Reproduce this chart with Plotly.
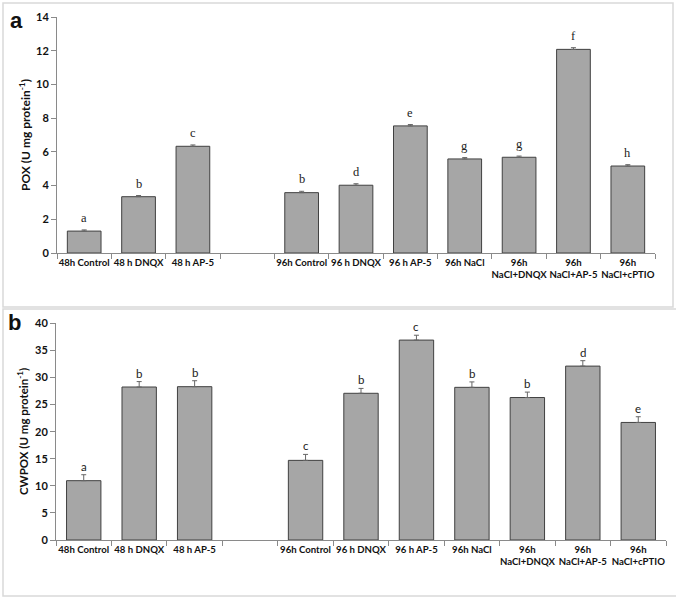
import plotly.graph_objects as go

categories = ["48h Control", "48 h DNQX", "48 h AP-5", " ", "96h Control", "96 h DNQX",
              "96 h AP-5", "96h NaCl", "96h<br>NaCl+DNQX", "96h<br>NaCl+AP-5", "96h<br>NaCl+cPTIO"]

pox_values = [1.30, 3.34, 6.33, None, 3.58, 4.02, 7.54, 5.58, 5.68, 12.08, 5.16]
pox_errors = [0.07, 0.07, 0.08, None, 0.08, 0.09, 0.08, 0.08, 0.07, 0.10, 0.08]
pox_letters = ["a", "b", "c", "", "b", "d", "e", "g", "g", "f", "h"]

cwpox_values = [10.95, 28.24, 28.30, None, 14.70, 27.08, 36.90, 28.18, 26.30, 32.10, 21.70]
cwpox_errors = [1.10, 1.00, 1.10, None, 1.10, 0.90, 0.90, 1.00, 1.00, 1.00, 1.05]
cwpox_letters = ["a", "b", "b", "", "c", "b", "c", "b", "b", "d", "e"]

pox_ticks = [0, 2, 4, 6, 8, 10, 12, 14]
cwpox_ticks = [0, 5, 10, 15, 20, 25, 30, 35, 40]

W, H = 676, 598
BAR = "#a6a6a6"
EDGE = "#404040"
AXIS = "#8a8a8a"
ERR = "#666666"
SANS = "Lato, 'Liberation Sans', Arial, sans-serif"

def px_x(p):
    return p / W

def px_y(p):
    return 1 - p / H

def plus_only(errs):
    return dict(type="data", array=errs, arrayminus=[0 if e is not None else None for e in errs],
                symmetric=False, visible=True, color=ERR, thickness=1, width=2.5)

fig = go.Figure()

fig.add_trace(go.Bar(
    x=categories, y=pox_values, xaxis="x", yaxis="y",
    marker=dict(color=BAR, line=dict(color=EDGE, width=1)),
    error_y=plus_only(pox_errors), showlegend=False, hoverinfo="x+y"))

fig.add_trace(go.Bar(
    x=categories, y=cwpox_values, xaxis="x2", yaxis="y2",
    marker=dict(color=BAR, line=dict(color=EDGE, width=1)),
    error_y=plus_only(cwpox_errors), showlegend=False, hoverinfo="x+y"))

annotations = []
for c, v, e, t in zip(categories, pox_values, pox_errors, pox_letters):
    if v is None:
        continue
    annotations.append(dict(x=c, y=v + e, xref="x", yref="y", text=t, showarrow=False,
                            xanchor="center", yanchor="bottom", yshift=3,
                            font=dict(family="'Liberation Serif', 'DejaVu Serif', serif", size=12.5, color="#222")))
for c, v, e, t in zip(categories, cwpox_values, cwpox_errors, cwpox_letters):
    if v is None:
        continue
    annotations.append(dict(x=c, y=v + e, xref="x2", yref="y2", text=t, showarrow=False,
                            xanchor="center", yanchor="bottom", yshift=0,
                            font=dict(family=SANS, size=11.5, color="#222")))

# panel letters
annotations.append(dict(x=px_x(16), y=px_y(21), xref="paper", yref="paper", text="<b>a</b>",
                        xanchor="center", yanchor="middle",
                        showarrow=False, font=dict(family="Arial, 'Liberation Sans', sans-serif", size=22, color="#111")))
annotations.append(dict(x=px_x(14), y=px_y(322), xref="paper", yref="paper", text="<b>b</b>",
                        xanchor="center", yanchor="middle",
                        showarrow=False, font=dict(family="Arial, 'Liberation Sans', sans-serif", size=22, color="#111")))

# y-axis titles
annotations.append(dict(x=px_x(25), y=px_y(135), xref="paper", yref="paper",
                        text="<b>POX (U mg protein<sup>-1</sup>)</b>", textangle=-90, showarrow=False,
                        xanchor="center", yanchor="middle",
                        font=dict(family=SANS, size=12, color="#111")))
annotations.append(dict(x=px_x(22), y=px_y(432), xref="paper", yref="paper",
                        text="<b>CWPOX (U mg protein<sup>-1</sup>)</b>", textangle=-90, showarrow=False,
                        xanchor="center", yanchor="middle",
                        font=dict(family=SANS, size=11.5, color="#111")))

shapes = [
    dict(type="rect", xref="paper", yref="paper", x0=px_x(3), x1=px_x(673), y0=px_y(307), y1=px_y(3),
         line=dict(color="#d9d9d9", width=1.5)),
    dict(type="rect", xref="paper", yref="paper", x0=px_x(3), x1=px_x(690), y0=px_y(596), y1=px_y(309),
         line=dict(color="#d9d9d9", width=1.5)),
]

xcommon = dict(type="category", categoryorder="array", categoryarray=categories,
               range=[-0.5, 10.5], tickson="boundaries", ticks="outside", ticklen=5, tickcolor=AXIS,
               showline=True, linecolor=AXIS, linewidth=1, showgrid=False, zeroline=False,
               tickangle=0, automargin=False,
               tickfont=dict(family=SANS, size=9.6, color="#111", weight="bold"), fixedrange=True)
ycommon = dict(ticks="outside", ticklen=5, tickcolor=AXIS, showline=True, linecolor=AXIS, linewidth=1,
               showgrid=False, zeroline=False, automargin=False,
               tickfont=dict(family=SANS, size=11, color="#111", weight="bold"), fixedrange=True)

fig.update_layout(
    width=W, height=H, margin=dict(l=0, r=0, t=0, b=0, autoexpand=False),
    paper_bgcolor="white", plot_bgcolor="white", bargap=0.38,
    xaxis=dict(domain=[px_x(57), px_x(655)], anchor="y", **xcommon),
    yaxis=dict(domain=[px_y(253), px_y(17)], anchor="x", range=[0, 14], tickvals=pox_ticks, **ycommon),
    xaxis2=dict(domain=[px_x(56), px_x(666)], anchor="y2", **xcommon),
    yaxis2=dict(domain=[px_y(540), px_y(323.3)], anchor="x2", range=[0, 40], tickvals=cwpox_ticks, **ycommon),
    annotations=annotations, shapes=shapes,
)

fig.write_html("out.html", config={"displayModeBar": False},
               post_script="document.body.style.margin='0';document.body.style.overflow='hidden';")
